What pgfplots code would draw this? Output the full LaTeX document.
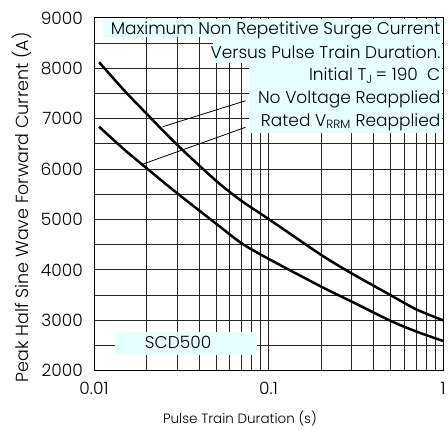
\documentclass[border=0pt]{standalone}
\usepackage{fontspec}
\setmainfont{Poppins}[UprightFont={* Light}]
\usepackage{pgfplots}
\pgfplotsset{compat=1.18}

\definecolor{boxfill}{RGB}{232,255,255}

\pgfplotstableread{
x       y
0.0107  8120
0.015   7550
0.02    7100
0.03    6480
0.05    5770
0.07    5370
0.1     5010
0.2     4300
0.3     3930
0.5     3500
0.7     3220
1.0     3000
}\novoltage

\pgfplotstableread{
x       y
0.0107  6840
0.015   6380
0.02    6020
0.03    5520
0.05    4920
0.07    4530
0.1     4220
0.2     3670
0.3     3370
0.5     2990
0.7     2780
1.0     2590
}\ratedvrrm

\begin{document}
\begin{tikzpicture}[font=\fontsize{17}{20}\selectfont]
\begin{axis}[
  name=ax,
  scale only axis,
  width=349pt, height=352.8pt,
  xmode=log,
  xmin=0.01, xmax=1,
  ymin=2000, ymax=9000,
  xtick={0.01,0.1,1},
  xticklabels={0.01,0.1,1},
  ytick={2000,3000,...,9000},
  yticklabels={2000,3000,4000,5000,6000,7000,8000,9000},
  minor ytick={2500,3500,...,8500},
  grid=both,
  major grid style={black!85, line width=0.8pt},
  minor grid style={black!85, line width=0.8pt},
  axis line style={black, line width=0.9pt},
  major tick length=0pt, minor tick length=0pt,
  yticklabel style={anchor=east, inner sep=0pt, xshift=-11pt},
  xticklabel style={anchor=north, inner sep=0pt, yshift=-11pt},
  xlabel={Pulse Train Duration (s)},
  ylabel={Peak Half Sine Wave Forward Current (A)},
  xlabel style={at={(axis description cs:0.418,-0.135)}, anchor=center, font=\fontsize{13.5}{15}\selectfont},
  ylabel style={at={(axis description cs:-0.205,0.463)}, anchor=center, font=\fontsize{17.5}{20}\selectfont},
  clip=false,
]
  % shaded panels behind the annotation text
  \fill[boxfill] (rel axis cs:0.026,0.9955) rectangle (rel axis cs:0.996,0.945);
  \fill[boxfill] (rel axis cs:0.341,0.945) rectangle (rel axis cs:0.996,0.872);
  \fill[boxfill] (rel axis cs:0.444,0.872) rectangle (rel axis cs:0.996,0.674);
  \fill[boxfill] (rel axis cs:0.060,0.1086) rectangle (rel axis cs:0.467,0.0445);

  \addplot[black, line width=2.5pt, smooth] table[x=x, y=y] {\novoltage};
  \addplot[black, line width=2.5pt, smooth] table[x=x, y=y] {\ratedvrrm};

  % leader lines
  \draw[black, line width=0.8pt] (axis cs:0.0739,7357) -- (axis cs:0.0248,6841);
  \draw[black, line width=0.8pt] (axis cs:0.0739,6830) -- (axis cs:0.0191,6100);

  \node[anchor=east, inner sep=0pt] at (rel axis cs:0.993,0.966) {Maximum Non Repetitive Surge Current};
  \node[anchor=east, inner sep=0pt] at (rel axis cs:0.993,0.903) {Versus Pulse Train Duration.};
  \node[anchor=east, inner sep=0pt] at (rel axis cs:0.993,0.836) {Initial T\textsubscript{J}\,= 190\ \ C};
  \node[anchor=east, inner sep=0pt] at (rel axis cs:0.993,0.768) {No Voltage Reapplied};
  \node[anchor=east, inner sep=0pt] at (rel axis cs:0.993,0.705) {Rated V\textsubscript{RRM} Reapplied};
  \node[inner sep=0pt] at (rel axis cs:0.241,0.079) {SCD500};
\end{axis}
\useasboundingbox ([xshift=-94pt,yshift=-58.3pt]ax.south west) rectangle ([xshift=5pt,yshift=17.9pt]ax.north east);
\end{tikzpicture}
\end{document}
